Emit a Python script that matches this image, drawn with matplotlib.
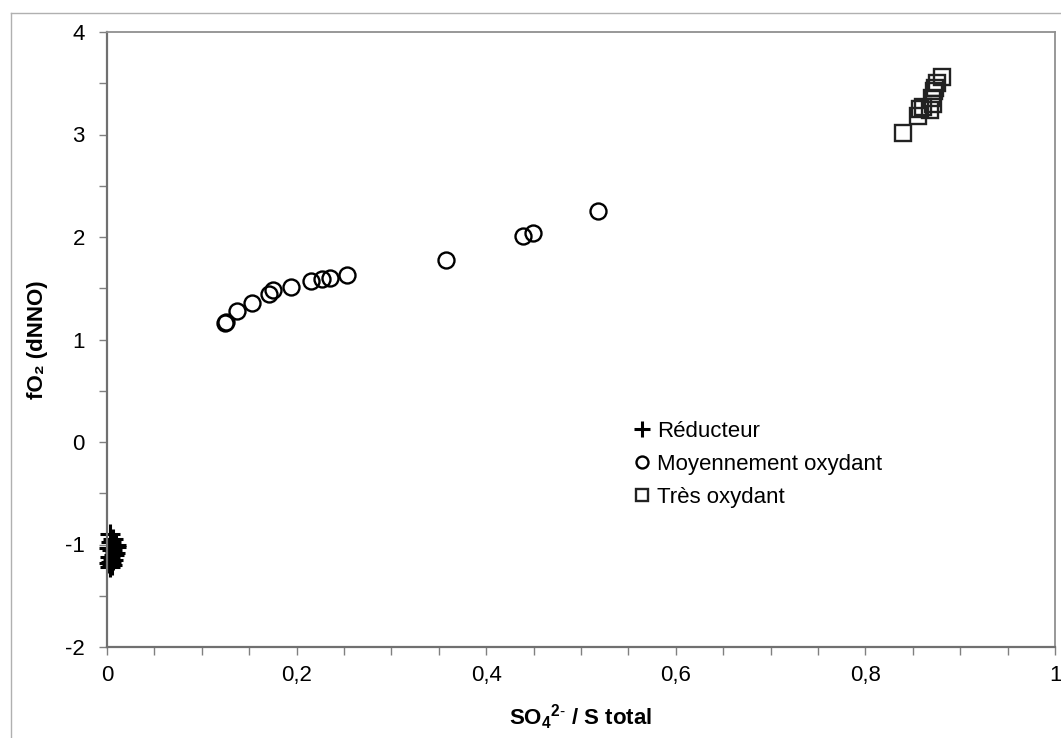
import matplotlib
matplotlib.use("Agg")
import matplotlib.pyplot as plt
from matplotlib.lines import Line2D
from matplotlib.ticker import MultipleLocator, FuncFormatter

plt.rcParams['font.family'] = ['Liberation Sans', 'DejaVu Sans']
plt.rcParams['mathtext.fontset'] = 'custom'
plt.rcParams['mathtext.rm'] = 'Liberation Sans'
plt.rcParams['mathtext.bf'] = 'Liberation Sans:bold'

# Réducteur (plus markers)
red_x = [0.003, 0.006, 0.004, 0.009, 0.002, 0.005, 0.008, 0.003, 0.006, 0.004,
         0.002, 0.005, 0.009, 0.003, 0.007]
red_y = [-0.90, -0.95, -0.98, -1.00, -1.03, -1.05, -1.08, -1.12, -1.15, -1.17,
         -1.18, -1.20, -1.02, -1.22, -1.10]

# Moyennement oxydant (circles)
moy_x = [0.124, 0.126, 0.137, 0.153, 0.171, 0.175, 0.194, 0.215, 0.227, 0.235,
         0.253, 0.358, 0.439, 0.449, 0.518]
moy_y = [1.16, 1.17, 1.28, 1.36, 1.44, 1.48, 1.51, 1.57, 1.59, 1.60,
         1.63, 1.78, 2.01, 2.04, 2.25]

# Très oxydant (squares)
tres_x = [0.840, 0.855, 0.858, 0.861, 0.868, 0.871, 0.870, 0.872, 0.873, 0.875, 0.881]
tres_y = [3.01, 3.18, 3.25, 3.27, 3.24, 3.30, 3.36, 3.42, 3.45, 3.50, 3.56]

fig = plt.figure(figsize=(10.61, 7.38), dpi=100)
ax = fig.add_axes([107 / 1061, 1 - 647 / 738, 948 / 1061, 615 / 738])

ax.plot(red_x, red_y, linestyle='none', marker='+', ms=15, mew=2.2,
        color='black', label='Réducteur', clip_on=False)
ax.plot(moy_x, moy_y, linestyle='none', marker='o', ms=11.5, mew=1.7,
        mfc='none', mec='black', label='Moyennement oxydant')
ax.plot(tres_x, tres_y, linestyle='none', marker='s', ms=11, mew=1.7,
        mfc='none', mec='#222222', label='Très oxydant')

ax.set_xlim(0, 1)
ax.set_ylim(-2, 4)
ax.xaxis.set_major_locator(MultipleLocator(0.2))
ax.xaxis.set_minor_locator(MultipleLocator(0.05))
ax.yaxis.set_major_locator(MultipleLocator(1))
ax.yaxis.set_minor_locator(MultipleLocator(0.5))
ax.xaxis.set_major_formatter(FuncFormatter(lambda v, p: ('%g' % round(v, 2)).replace('.', ',')))
ax.yaxis.set_major_formatter(FuncFormatter(lambda v, p: '%d' % round(v)))

ax.tick_params(which='both', direction='out', length=6, width=1, color='#808080',
               labelsize=16, labelcolor='black')
ax.tick_params(axis='y', pad=10)
ax.tick_params(axis='x', pad=7)

for side in ['left', 'bottom']:
    ax.spines[side].set_color('#707070')
    ax.spines[side].set_linewidth(1.6)
for side in ['top', 'right']:
    ax.spines[side].set_color('#909090')
    ax.spines[side].set_linewidth(1.3)

ax.set_xlabel(r'SO$_\mathbf{4}$$^\mathbf{2\text{-}}$ / S total', fontsize=16,
              fontweight='bold', labelpad=12)
ax.set_ylabel('fO₂ (dNNO)', fontsize=16, fontweight='bold', labelpad=12)

ax.legend(loc='upper left', bbox_to_anchor=(0.556, 0.368), frameon=False,
          fontsize=16, handlelength=0.7, handletextpad=0.35, labelspacing=0.55,
          borderaxespad=0, borderpad=0, markerscale=0.75)

# thin grey page border
fig.add_artist(Line2D([11 / 1061, 1.0], [1 - 13 / 738, 1 - 13 / 738],
                      transform=fig.transFigure, color='#b0b0b0', lw=1))
fig.add_artist(Line2D([11 / 1061, 11 / 1061], [0.0, 1 - 13 / 738],
                      transform=fig.transFigure, color='#b0b0b0', lw=1))

fig.savefig('out.png', dpi=100)
